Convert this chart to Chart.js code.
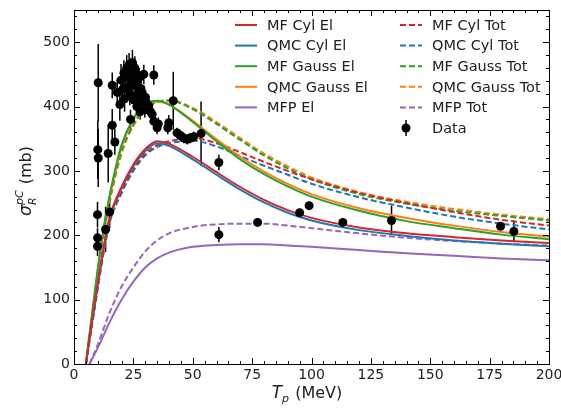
<!DOCTYPE html>
<html>
<head>
<meta charset="utf-8">
<script src="https://cdn.jsdelivr.net/npm/chart.js@4.4.1/dist/chart.umd.min.js"></script>
<style>
html, body { margin: 0; padding: 0; background: #fff; }
</style>
</head>
<body>
<canvas id="chart" width="561" height="408"></canvas>
<script>
// 曲线横坐标 (MeV)
const curveX = [5, 7.5, 10, 12.5, 15, 20, 25, 30, 35, 40, 50, 60, 70, 80, 90, 100, 120, 140, 160, 180, 200];
const mfCylEl     = [0, 65, 125, 182, 228, 275, 310, 334, 346, 342, 322, 298, 275, 255, 239, 227, 212, 203, 197, 192, 188];
const qmcCylEl    = [0, 63, 122, 179, 225, 272, 307, 331, 343, 339, 318, 294, 271, 251, 235, 223, 208, 199, 192, 187, 183];
const mfGaussEl   = [0, 75, 148, 212, 262, 340, 382, 404, 409, 403, 376, 346, 318, 295, 276, 260, 238, 222, 211, 201, 194];
const qmcGaussEl  = [0, 73, 145, 209, 259, 337, 380, 403, 408, 403, 378, 349, 322, 299, 280, 264, 242, 227, 215, 205, 198];
const mfCylTot    = [0, 60, 120, 176, 222, 268, 303, 327, 340, 346, 351, 343, 329, 314, 300, 287, 266, 250, 236, 224, 215];
const qmcCylTot   = [0, 58, 117, 173, 219, 265, 300, 324, 337, 343, 347, 338, 323, 308, 294, 280, 259, 243, 229, 218, 209];
const mfGaussTot  = [0, 70, 140, 203, 254, 330, 372, 397, 407, 409, 396, 373, 348, 324, 304, 287, 264, 249, 238, 230, 223];
const qmcGaussTot = [0, 68, 137, 200, 251, 327, 370, 396, 407, 410, 398, 376, 351, 327, 307, 290, 267, 252, 241, 232, 225];

// MFP 曲线
const mfpX   = [6.5, 10, 15, 20, 25, 30, 35, 40, 50, 60, 70, 80, 90, 100, 120, 140, 160, 180, 200];
const mfpEl  = [0, 25, 65, 100, 128, 150, 164, 173, 182, 185, 186, 186, 184, 182, 177, 172, 168, 164, 161];
const mfpTot = [0, 30, 80, 120, 150, 175, 192, 203, 213, 217, 218, 218, 215, 211, 203, 196, 191, 187, 184];

// 实验数据
const dataX = [10.2, 10.0, 10.2, 9.9, 9.9, 9.9, 13.3, 14.4, 15.0, 16.1, 17.2, 16.1, 18.2, 19.3,
  19.8, 20.5, 21.0, 21.3, 21.8, 22.2, 22.5, 22.9, 23.2, 23.5, 23.8, 24.0, 24.3, 24.6, 25.0, 25.3,
  25.6, 25.9, 26.2, 26.5, 26.8, 27.1, 27.5, 27.8, 28.2, 28.6, 29.0, 29.4, 29.8, 30.1, 30.6, 31.5,
  32.2, 32.9, 33.6, 33.6, 35.0, 35.5, 39.5, 39.9, 41.8, 43.4, 44.8, 46.2, 47.7, 49.0, 50.4, 53.5,
  61.0, 61.0, 77.3, 95.0, 99.0, 113.2, 133.7, 179.6, 185.2];
const dataY = [437, 333, 320, 232, 196, 183, 209, 327, 236, 371, 345, 433, 422, 403,
  441, 427, 452, 412, 446, 460, 430, 448, 465, 420, 380, 455, 438, 468, 447, 410,
  460, 432, 452, 400, 440, 420, 445, 392, 428, 408, 418, 450, 395, 414, 405, 401,
  392, 388, 449, 377, 367, 373, 367, 375, 409, 359, 355, 351, 349, 351, 353, 358,
  313, 201, 220, 235, 246, 220, 223, 214, 206];
const dataErr = [60, 45, 45, 20, 15, 15, 35, 45, 25, 25, 20, 20, 20, 25,
  25, 20, 20, 20, 18, 20, 18, 18, 18, 18, 15, 20, 18, 20, 18, 15,
  18, 15, 18, 15, 15, 15, 15, 12, 15, 12, 12, 15, 12, 12, 12, 12,
  10, 10, 15, 10, 10, 10, 10, 12, 45, 8, 8, 8, 8, 8, 8, 50,
  12, 12, 6, 6, 6, 6, 23, 5, 17];

const xTicks = [0, 25, 50, 75, 100, 125, 150, 175, 200];
const yTicks = [0, 100, 200, 300, 400, 500];

const RED = '#d62728', BLUE = '#1f77b4', GREEN = '#2ca02c', ORANGE = '#ff7f0e', PURPLE = '#9467bd';
const FONT = '"DejaVu Sans", sans-serif';

function pts(xs, ys) {
    return xs.map(function(x, i) { return { x: x, y: ys[i] }; });
}

function curve(label, xs, ys, color, dashed) {
    return {
        type: 'line',
        label: label,
        data: pts(xs, ys),
        borderColor: color,
        borderWidth: 2,
        borderDash: dashed ? [6, 3] : [],
        pointRadius: 0,
        fill: false,
        showLine: true,
        cubicInterpolationMode: 'monotone'
    };
}

const datasets = [
    {
        type: 'scatter',
        label: 'Data',
        data: pts(dataX, dataY),
        backgroundColor: '#000',
        borderColor: '#000',
        pointRadius: 4.5,
        pointBorderWidth: 0
    },
    curve('MF Cyl El', curveX, mfCylEl, RED, false),
    curve('QMC Cyl El', curveX, qmcCylEl, BLUE, false),
    curve('MF Gauss El', curveX, mfGaussEl, GREEN, false),
    curve('QMC Gauss El', curveX, qmcGaussEl, ORANGE, false),
    curve('MFP El', mfpX, mfpEl, PURPLE, false),
    curve('MF Cyl Tot', curveX, mfCylTot, RED, true),
    curve('QMC Cyl Tot', curveX, qmcCylTot, BLUE, true),
    curve('MF Gauss Tot', curveX, mfGaussTot, GREEN, true),
    curve('QMC Gauss Tot', curveX, qmcGaussTot, ORANGE, true),
    curve('MFP Tot', mfpX, mfpTot, PURPLE, true)
];

// 误差棒
const errorBars = {
    id: 'errorBars',
    beforeDatasetsDraw: function(chart) {
        const ctx = chart.ctx, xs = chart.scales.x, ys = chart.scales.y, a = chart.chartArea;
        ctx.save();
        ctx.beginPath();
        ctx.rect(a.left, a.top, a.right - a.left, a.bottom - a.top);
        ctx.clip();
        ctx.strokeStyle = '#000';
        ctx.lineWidth = 1.5;
        dataX.forEach(function(x, i) {
            const px = xs.getPixelForValue(x);
            ctx.beginPath();
            ctx.moveTo(px, ys.getPixelForValue(dataY[i] - dataErr[i]));
            ctx.lineTo(px, ys.getPixelForValue(dataY[i] + dataErr[i]));
            ctx.stroke();
        });
        ctx.restore();
    }
};

// 边框、内向刻度、坐标轴标题、图例
const decorations = {
    id: 'decorations',
    afterDraw: function(chart) {
        const ctx = chart.ctx, xs = chart.scales.x, ys = chart.scales.y;
        const a = chart.chartArea;
        ctx.save();
        ctx.strokeStyle = '#000';
        ctx.lineWidth = 1;
        ctx.strokeRect(Math.round(a.left) + 0.5, Math.round(a.top) + 0.5,
            Math.round(a.right - a.left), Math.round(a.bottom - a.top));

        ctx.beginPath();
        for (let v = xs.min; v <= xs.max; v += 5) {
            const px = Math.round(xs.getPixelForValue(v)) + 0.5;
            const len = v % 25 === 0 ? 6 : 3;
            ctx.moveTo(px, a.bottom); ctx.lineTo(px, a.bottom - len);
            ctx.moveTo(px, a.top); ctx.lineTo(px, a.top + len);
        }
        for (let v = ys.min; v <= ys.max; v += 20) {
            const py = Math.round(ys.getPixelForValue(v)) + 0.5;
            const len = v % 100 === 0 ? 6 : 3;
            ctx.moveTo(a.left, py); ctx.lineTo(a.left + len, py);
            ctx.moveTo(a.right, py); ctx.lineTo(a.right - len, py);
        }
        ctx.stroke();

        ctx.fillStyle = '#222';
        ctx.textBaseline = 'alphabetic';

        // x 轴标题 T_p (MeV)
        const xt = 'italic 17px ' + FONT, xs2 = 'italic 11px ' + FONT, xr = '16px ' + FONT;
        ctx.font = xt; const wT = ctx.measureText('T').width;
        ctx.font = xs2; const wp = ctx.measureText('p').width;
        ctx.font = xr; const wM = ctx.measureText(' (MeV)').width;
        let x0 = 307 - (wT + wp + 1 + wM) / 2;
        const yb = 398;
        ctx.textAlign = 'left';
        ctx.font = xt; ctx.fillText('T', x0, yb); x0 += wT;
        ctx.font = xs2; ctx.fillText('p', x0, yb + 4); x0 += wp + 1;
        ctx.font = xr; ctx.fillText(' (MeV)', x0, yb);

        // y 轴标题 σ_R^pC (mb)
        ctx.save();
        ctx.translate(31, 181);
        ctx.rotate(-Math.PI / 2);
        ctx.font = xt; const ws = ctx.measureText('σ').width;
        ctx.font = xs2; const wpc = ctx.measureText('pC').width;
        ctx.font = xr; const wmb = ctx.measureText(' (mb)').width;
        let y0 = -(ws + wpc + 1 + wmb) / 2;
        ctx.font = xt; ctx.fillText('σ', y0, 0); y0 += ws;
        ctx.font = xs2; ctx.fillText('pC', y0, -8); ctx.fillText('R', y0, 5); y0 += wpc + 1;
        ctx.font = xr; ctx.fillText(' (mb)', y0, 0);
        ctx.restore();

        // 图例（两列）
        const cols = [
            { lx: 235, tx: 267, items: [1, 2, 3, 4, 5] },
            { lx: 400, tx: 432, items: [6, 7, 8, 9, 10, 0] }
        ];
        ctx.font = '14.5px ' + FONT;
        ctx.textBaseline = 'middle';
        cols.forEach(function(col) {
            col.items.forEach(function(di, row) {
                const ds = chart.data.datasets[di];
                const y = 25 + row * 20.6;
                if (di === 0) {
                    const cx = col.lx + 6;
                    ctx.strokeStyle = '#000';
                    ctx.lineWidth = 1.5;
                    ctx.setLineDash([]);
                    ctx.beginPath(); ctx.moveTo(cx, y - 8); ctx.lineTo(cx, y + 8); ctx.stroke();
                    ctx.fillStyle = '#000';
                    ctx.beginPath(); ctx.arc(cx, y, 4.5, 0, Math.PI * 2); ctx.fill();
                } else {
                    ctx.strokeStyle = ds.borderColor;
                    ctx.lineWidth = 2;
                    ctx.setLineDash(ds.borderDash);
                    ctx.beginPath(); ctx.moveTo(col.lx, y); ctx.lineTo(col.lx + 22, y); ctx.stroke();
                }
                ctx.setLineDash([]);
                ctx.fillStyle = '#222';
                ctx.fillText(ds.label, col.tx, y + 1);
            });
        });
        ctx.restore();
    }
};

new Chart(document.getElementById('chart').getContext('2d'), {
    type: 'scatter',
    data: { datasets: datasets },
    options: {
        responsive: false,
        animation: false,
        devicePixelRatio: 1,
        layout: { padding: { left: 0, right: 12, top: 10, bottom: 0 } },
        plugins: {
            legend: { display: false },
            tooltip: { enabled: false }
        },
        scales: {
            x: {
                type: 'linear',
                min: 0,
                max: 200,
                grid: { display: false, drawTicks: false },
                border: { display: false },
                afterBuildTicks: function(s) { s.ticks = xTicks.map(function(v) { return { value: v }; }); },
                afterFit: function(s) { s.height = 44; s.paddingLeft = 0; s.paddingRight = 0; },
                ticks: { color: '#222', padding: 3, font: { family: FONT, size: 14 }, maxRotation: 0 }
            },
            y: {
                type: 'linear',
                min: 0,
                max: 550,
                grid: { display: false, drawTicks: false },
                border: { display: false },
                afterBuildTicks: function(s) { s.ticks = yTicks.map(function(v) { return { value: v }; }); },
                afterFit: function(s) { s.width = 74; s.paddingTop = 0; s.paddingBottom = 0; },
                ticks: { color: '#222', padding: 4, font: { family: FONT, size: 14 } }
            }
        }
    },
    plugins: [errorBars, decorations]
});
</script>
</body>
</html>
